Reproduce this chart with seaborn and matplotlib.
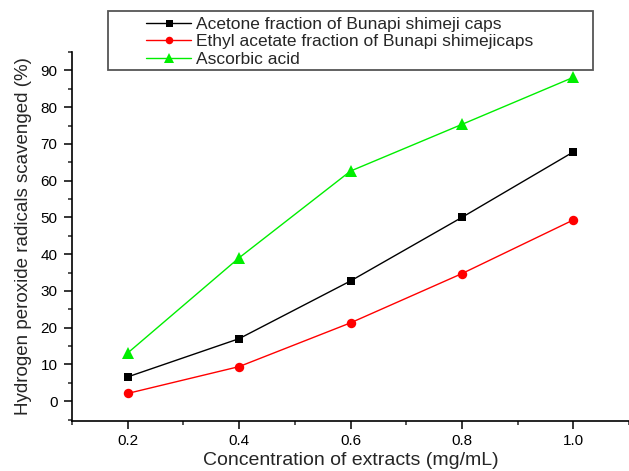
import numpy as np
import pandas as pd
import matplotlib
matplotlib.use("Agg")
import matplotlib.pyplot as plt
from matplotlib.patches import Rectangle
from matplotlib.ticker import MultipleLocator
import seaborn as sns

# data
concentration = [0.2, 0.4, 0.6, 0.8, 1.0]
acetone = [6.6, 17.0, 32.7, 50.0, 67.8]
ethyl_acetate = [2.1, 9.4, 21.3, 34.7, 49.3]
ascorbic = [13.1, 39.0, 62.6, 75.3, 88.1]

series_names = [
    "Acetone fraction of Bunapi shimeji caps",
    "Ethyl acetate fraction of Bunapi shimejicaps",
    "Ascorbic acid",
]
series_colors = ["black", "#ff0000", "#00ee00"]
series_markers = ["s", "o", "^"]
series_sizes = [6.3, 6.8, 8.5]

sns.set_style("ticks")
plt.rcParams["font.family"] = ["Liberation Sans", "DejaVu Sans"]

W, H = 629, 471
fig = plt.figure(figsize=(W / 100, H / 100), dpi=100)
ax = fig.add_axes([72 / W, (H - 421) / H, 1 - 72 / W, 369 / H])

for name, vals, col, mk, ms in zip(series_names, [acetone, ethyl_acetate, ascorbic],
                                   series_colors, series_markers, series_sizes):
    df = pd.DataFrame({"x": concentration, "y": vals})
    sns.lineplot(data=df, x="x", y="y", color=col, marker=mk, markersize=ms,
                 markeredgewidth=0, linewidth=1, label=name, ax=ax)

ax.set_xlim(0.1, 1.1)
ax.set_ylim(-5.4, 95)
ax.set_xticks([0.2, 0.4, 0.6, 0.8, 1.0])
ax.set_xticklabels(["0.2", "0.4", "0.6", "0.8", "1.0"])
ax.xaxis.set_minor_locator(MultipleLocator(0.1))
ax.set_yticks(np.arange(0, 91, 10))
ax.yaxis.set_minor_locator(MultipleLocator(5))

sns.despine(ax=ax)
for s in ["left", "bottom"]:
    ax.spines[s].set_linewidth(1.2)
    ax.spines[s].set_color("black")
ax.tick_params(which="major", length=5.5, width=1.1, labelsize=11, colors="black")
ax.tick_params(axis="x", which="major", pad=4)
ax.tick_params(axis="y", which="major", pad=5)
ax.tick_params(which="minor", length=3, width=1.1)

ax.set_xlabel("Concentration of extracts (mg/mL)", fontsize=14, labelpad=3)
ax.set_ylabel("Hydrogen peroxide radicals scavenged (%)", fontsize=13.5, labelpad=6)

# legend box drawn separately so its padding matches the original
fig.patches.append(Rectangle((108 / W, 1 - 70 / H), 485 / W, 59 / H,
                             transform=fig.transFigure, fill=False,
                             edgecolor="#555555", linewidth=1.3))
ax.legend(loc="upper left", bbox_to_anchor=(146 / W, 1 - 17 / H),
          bbox_transform=fig.transFigure, borderaxespad=0, borderpad=0,
          frameon=False, fontsize=12.5, handlelength=2.6, handletextpad=0.3,
          labelspacing=0.12, markerscale=0.8)

fig.savefig("out.png", dpi=100)
